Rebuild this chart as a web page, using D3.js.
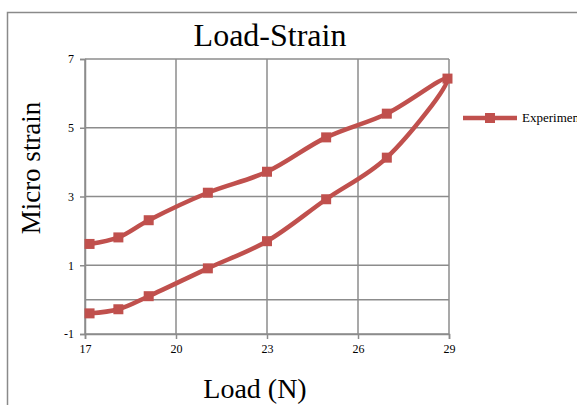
<!DOCTYPE html>
<html>
<head>
<meta charset="utf-8">
<script src="https://cdn.jsdelivr.net/npm/d3@7"></script>
<style>
  html, body { margin: 0; padding: 0; background: #fff; }
  svg { display: block; }
</style>
</head>
<body>
<svg id="chart" width="577" height="405"></svg>
<script>
// Loading branch (lower) then unloading branch (upper), one continuous loop
const loadN   = [17.15, 18.1, 19.1, 21.05, 23.0, 24.95, 26.95, 28.95, 26.95, 24.95, 23.0, 21.05, 19.1, 18.1, 17.15];
const strain  = [-0.40, -0.28, 0.10, 0.91, 1.70, 2.92, 4.13, 6.43, 5.41, 4.72, 3.72, 3.11, 2.31, 1.81, 1.62];
const xTicks  = [17, 20, 23, 26, 29];
const yTicks  = [-1, 1, 3, 5, 7];
const extraGrid = [0];
const seriesName = "Experimental";

const svg = d3.select("#chart");
const red = "#C0504D";
const grid = "#8c8c8c";
const serif = "'Liberation Serif', 'Times New Roman', serif";

// Chart area border
svg.append("rect")
  .attr("x", 7.5).attr("y", 12.5)
  .attr("width", 600).attr("height", 420)
  .attr("fill", "none").attr("stroke", "#8a8a8a").attr("stroke-width", 1.5);

const x = d3.scaleLinear().domain([17, 29]).range([85, 449]);
const y = d3.scaleLinear().domain([-1, 7]).range([334, 59]);

// Gridlines
const g = svg.append("g");
g.selectAll(".hg").data(yTicks.concat(extraGrid)).join("line")
  .attr("x1", x(17)).attr("x2", x(29))
  .attr("y1", d => y(d)).attr("y2", d => y(d))
  .attr("stroke", grid).attr("stroke-width", 1.5);
g.selectAll(".vg").data(xTicks).join("line")
  .attr("x1", d => x(d)).attr("x2", d => x(d))
  .attr("y1", y(7)).attr("y2", y(-1))
  .attr("stroke", grid).attr("stroke-width", 1.5);

// Axes (plain hyphen for negative numbers)
const fmt = d => String(d);
const yAxis = svg.append("g").attr("transform", `translate(${x(17)},0)`)
  .call(d3.axisLeft(y).tickValues(yTicks).tickSize(5).tickPadding(6).tickFormat(fmt));
const xAxis = svg.append("g").attr("transform", `translate(0,${y(-1)})`)
  .call(d3.axisBottom(x).tickValues(xTicks).tickSize(5).tickPadding(5).tickFormat(fmt));
[yAxis, xAxis].forEach(a => {
  a.select(".domain").attr("stroke", grid).attr("stroke-width", 1.5);
  a.selectAll(".tick line").attr("stroke", grid).attr("stroke-width", 1.5);
  a.selectAll(".tick text").attr("font-family", serif).attr("font-size", 12).attr("fill", "#000");
});

// Series line and markers
const pts = loadN.map((v, i) => [v, strain[i]]);
const line = d3.line().x(d => x(d[0])).y(d => y(d[1])).curve(d3.curveCatmullRom.alpha(0.5));
svg.append("path").datum(pts)
  .attr("d", line)
  .attr("fill", "none").attr("stroke", red).attr("stroke-width", 4.5)
  .attr("stroke-linejoin", "round");
svg.selectAll(".mk").data(pts).join("rect")
  .attr("x", d => x(d[0]) - 5).attr("y", d => y(d[1]) - 5)
  .attr("width", 10).attr("height", 10)
  .attr("fill", red);

// Titles
svg.append("text").attr("x", 270).attr("y", 46)
  .attr("text-anchor", "middle").attr("font-family", serif).attr("font-size", 32)
  .text("Load-Strain");
svg.append("text")
  .attr("transform", `translate(40,168) rotate(-90)`)
  .attr("text-anchor", "middle").attr("font-family", serif).attr("font-size", 27)
  .text("Micro strain");
svg.append("text").attr("x", 255).attr("y", 398)
  .attr("text-anchor", "middle").attr("font-family", serif).attr("font-size", 28)
  .text("Load (N)");

// Legend
const lg = svg.append("g");
lg.append("line").attr("x1", 463).attr("x2", 517).attr("y1", 118).attr("y2", 118)
  .attr("stroke", red).attr("stroke-width", 4.5);
lg.append("rect").attr("x", 485).attr("y", 113).attr("width", 10).attr("height", 10).attr("fill", red);
lg.append("text").attr("x", 522).attr("y", 122)
  .attr("font-family", serif).attr("font-size", 13).text(seriesName);
</script>
</body>
</html>
